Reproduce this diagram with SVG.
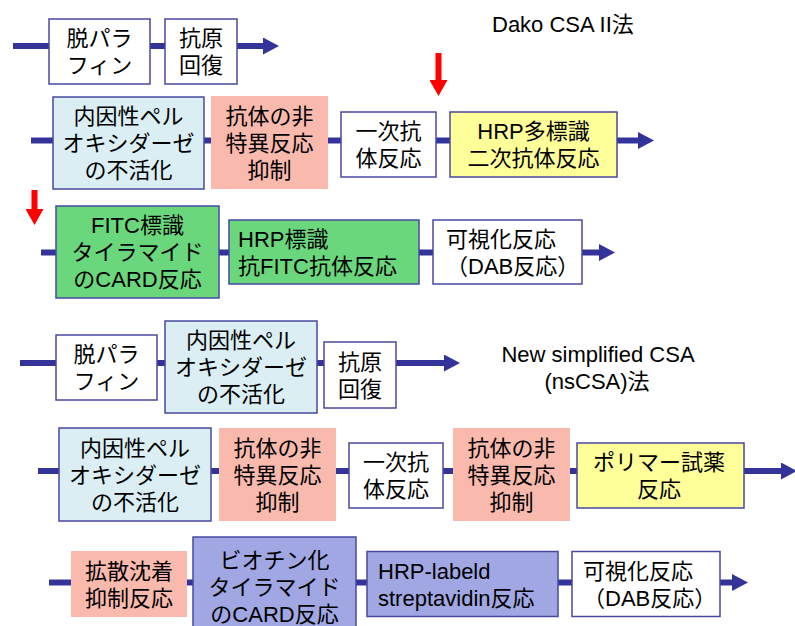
<svg xmlns="http://www.w3.org/2000/svg" width="795" height="626" viewBox="0 0 795 626">
<style>
text{font-family:"Liberation Sans","Noto Sans CJK JP",sans-serif;font-size:22px;fill:#000}
.c{text-anchor:middle}
.s{text-anchor:start}
.b{stroke:#4848a0;stroke-width:1.5}
.w{fill:#ffffff}
.lb{fill:#daeef3}
.sa{fill:#f9b9ad}
.ye{fill:#ffff99}
.gr{fill:#6ad77c}
.pu{fill:#a0a7e3}
.ln{stroke:#333399;stroke-width:6;fill:none}
.red{stroke:#ff0000;stroke-width:6;fill:none}
</style>
<defs>
<marker id="ah" markerUnits="userSpaceOnUse" markerWidth="16" markerHeight="17" refX="0" refY="8.5" orient="auto">
<path d="M0,0 L16,8.5 L0,17 z" fill="#333399"/>
</marker>
<marker id="rh" markerUnits="userSpaceOnUse" markerWidth="16" markerHeight="18" refX="0" refY="9" orient="auto">
<path d="M0,0 L16,9 L0,18 z" fill="#ff0000"/>
</marker>
</defs>

<g id="titles">
<text x="492" y="32" class="s">Dako CSA II法</text>
<text x="598" y="362" class="c">New simplified CSA</text>
<text x="597" y="389" class="c">(nsCSA)法</text>
</g>

<g id="connectors">
<!-- row 1 -->
<path class="ln" d="M13,46 H49"/>
<path class="ln" d="M150,46 H165"/>
<path class="ln" d="M237,46 H263" marker-end="url(#ah)"/>
<!-- row 2 -->
<path class="ln" d="M31,140.5 H53"/>
<path class="ln" d="M204,140.5 H211"/>
<path class="ln" d="M328,140.5 H341"/>
<path class="ln" d="M436,140.5 H450"/>
<path class="ln" d="M617,140.5 H638" marker-end="url(#ah)"/>
<!-- row 3 -->
<path class="ln" d="M41,252.5 H56"/>
<path class="ln" d="M219,252.5 H229"/>
<path class="ln" d="M419,252.5 H433"/>
<path class="ln" d="M582,252.5 H599" marker-end="url(#ah)"/>
<!-- row 4 -->
<path class="ln" d="M20,363 H56"/>
<path class="ln" d="M157,363 H165"/>
<path class="ln" d="M317,363 H324"/>
<path class="ln" d="M396,363 H444" marker-end="url(#ah)"/>
<!-- row 5 -->
<path class="ln" d="M38,471 H59"/>
<path class="ln" d="M211,471 H219"/>
<path class="ln" d="M336,471 H349"/>
<path class="ln" d="M443,471 H453"/>
<path class="ln" d="M570,471 H577"/>
<path class="ln" d="M744,471 H781" marker-end="url(#ah)"/>
<!-- row 6 -->
<path class="ln" d="M49,582.5 H71"/>
<path class="ln" d="M187,582.5 H193"/>
<path class="ln" d="M356,582.5 H367"/>
<path class="ln" d="M558,582.5 H572"/>
<path class="ln" d="M720,582.5 H732" marker-end="url(#ah)"/>
<!-- red arrows -->
<path class="red" d="M438.5,53 V80" marker-end="url(#rh)"/>
<path class="red" d="M34.5,190 V209" marker-end="url(#rh)"/>
</g>

<g id="n1"><rect class="w b" x="49" y="19" width="101" height="65"/>
<text class="c" x="99.5" y="46">脱パラ</text><text class="c" x="99.5" y="73">フィン</text></g>
<g id="n2"><rect class="w b" x="165" y="19" width="72" height="65"/>
<text class="c" x="201" y="46">抗原</text><text class="c" x="201" y="73">回復</text></g>

<g id="n3"><rect class="lb b" x="53" y="97" width="151" height="92"/>
<text class="c" x="128.5" y="124">内因性ペル</text><text class="c" x="128.5" y="151">オキシダーゼ</text><text class="c" x="128.5" y="178">の不活化</text></g>
<g id="n4"><rect class="sa" x="211" y="96" width="117" height="93"/>
<text class="c" x="269.5" y="124">抗体の非</text><text class="c" x="269.5" y="151">特異反応</text><text class="c" x="269.5" y="178">抑制</text></g>
<g id="n5"><rect class="w b" x="341" y="112" width="95" height="65"/>
<text class="c" x="388.5" y="139">一次抗</text><text class="c" x="388.5" y="166">体反応</text></g>
<g id="n6"><rect class="ye b" x="450" y="112" width="167" height="65"/>
<text class="c" x="533.5" y="139">HRP多標識</text><text class="c" x="533.5" y="166">二次抗体反応</text></g>

<g id="n7"><rect class="gr b" x="56" y="206" width="163" height="92"/>
<text class="c" x="137.5" y="233">FITC標識</text><text class="c" x="137.5" y="260">タイラマイド</text><text class="c" x="137.5" y="287">のCARD反応</text></g>
<g id="n8"><rect class="gr b" x="229" y="220" width="190" height="64"/>
<text class="s" x="238" y="246.5">HRP標識</text><text class="s" x="238" y="273.5">抗FITC抗体反応</text></g>
<g id="n9"><rect class="w b" x="433" y="220" width="149" height="64"/>
<text class="s" x="446" y="246.5">可視化反応</text><text class="s" x="446" y="273.5">（DAB反応）</text></g>

<g id="n10"><rect class="w b" x="56" y="335" width="101" height="65"/>
<text class="c" x="106.5" y="362">脱パラ</text><text class="c" x="106.5" y="389">フィン</text></g>
<g id="n11"><rect class="lb b" x="165" y="321" width="152" height="92"/>
<text class="c" x="241" y="348">内因性ペル</text><text class="c" x="241" y="375">オキシダーゼ</text><text class="c" x="241" y="402">の不活化</text></g>
<g id="n12"><rect class="w b" x="324" y="342" width="72" height="66"/>
<text class="c" x="360" y="370">抗原</text><text class="c" x="360" y="397">回復</text></g>

<g id="n13"><rect class="lb b" x="59" y="428" width="152" height="93"/>
<text class="c" x="135" y="456">内因性ペル</text><text class="c" x="135" y="483">オキシダーゼ</text><text class="c" x="135" y="510">の不活化</text></g>
<g id="n14"><rect class="sa" x="219" y="428" width="117" height="93"/>
<text class="c" x="277.5" y="456">抗体の非</text><text class="c" x="277.5" y="483">特異反応</text><text class="c" x="277.5" y="510">抑制</text></g>
<g id="n15"><rect class="w b" x="349" y="443" width="94" height="65"/>
<text class="c" x="396" y="470">一次抗</text><text class="c" x="396" y="497">体反応</text></g>
<g id="n16"><rect class="sa" x="453" y="428" width="117" height="93"/>
<text class="c" x="511.5" y="456">抗体の非</text><text class="c" x="511.5" y="483">特異反応</text><text class="c" x="511.5" y="510">抑制</text></g>
<g id="n17"><rect class="ye b" x="577" y="443" width="167" height="65"/>
<text class="c" x="659" y="470">ポリマー試薬</text><text class="c" x="659" y="497">反応</text></g>

<g id="n18"><rect class="sa" x="71" y="551" width="116" height="66"/>
<text class="c" x="129" y="579">拡散沈着</text><text class="c" x="129" y="606">抑制反応</text></g>
<g id="n19"><rect class="pu b" x="193" y="537" width="163" height="95"/>
<text class="c" x="274.5" y="568">ビオチン化</text><text class="c" x="274.5" y="595">タイラマイド</text><text class="c" x="274.5" y="622">のCARD反応</text></g>
<g id="n20"><rect class="pu b" x="367" y="551.5" width="191" height="65"/>
<text class="s" x="378" y="578.5">HRP-labeld</text><text class="s" x="378" y="605.5">streptavidin反応</text></g>
<g id="n21"><rect class="w b" x="572" y="551.5" width="148" height="65"/>
<text class="s" x="583" y="578.5">可視化反応</text><text class="s" x="583" y="605.5">（DAB反応）</text></g>
</svg>
